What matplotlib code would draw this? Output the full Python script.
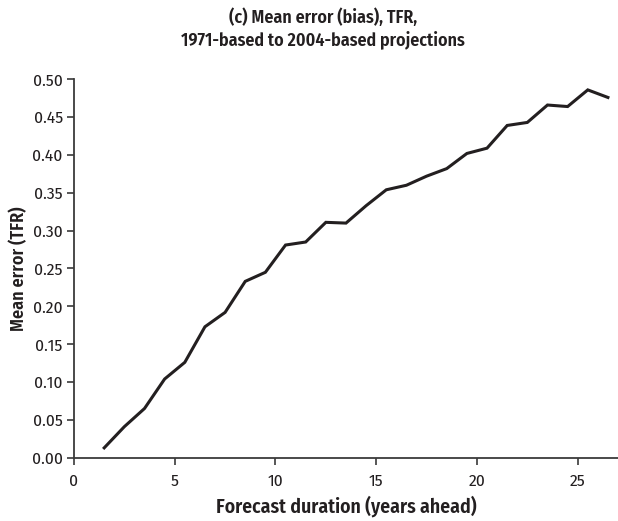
import matplotlib
matplotlib.use("Agg")
import matplotlib.pyplot as plt

# Forecast duration (years ahead) and mean error of TFR
years_ahead = [1.5, 2.5, 3.5, 4.5, 5.5, 6.5, 7.5, 8.5, 9.5, 10.5, 11.5, 12.5, 13.5,
               14.5, 15.5, 16.5, 17.5, 18.5, 19.5, 20.5, 21.5, 22.5, 23.5, 24.5,
               25.5, 26.5]
mean_error = [0.013, 0.041, 0.065, 0.104, 0.126, 0.173, 0.192, 0.233, 0.245, 0.281,
              0.285, 0.311, 0.310, 0.333, 0.354, 0.360, 0.372, 0.382, 0.402, 0.409,
              0.439, 0.443, 0.466, 0.464, 0.486, 0.476]

x_ticks = [0, 5, 10, 15, 20, 25]
y_ticks = [0.00, 0.05, 0.10, 0.15, 0.20, 0.25, 0.30, 0.35, 0.40, 0.45, 0.50]

plt.rcParams["font.family"] = ["Fira Sans Condensed", "DejaVu Sans"]

ink = "#231f20"
fig = plt.figure(figsize=(6.18, 5.21), dpi=100)
ax = fig.add_axes([0.1197, 0.1215, 0.8803, 0.7263])

ax.plot(years_ahead, mean_error, color=ink, linewidth=2.2, solid_joinstyle="miter")

ax.set_xlim(0, 27)
ax.set_ylim(0, 0.5)
ax.set_xticks(x_ticks)
ax.set_yticks(y_ticks)
ax.set_yticklabels([f"{v:.2f}" for v in y_ticks])

for side in ("top", "right"):
    ax.spines[side].set_visible(False)
for side in ("left", "bottom"):
    ax.spines[side].set_color("#3a3a3a")
    ax.spines[side].set_linewidth(1.3)
ax.tick_params(direction="out", length=5, width=1.2, color="#3a3a3a",
               labelsize=12.5, labelcolor=ink)
ax.tick_params(axis="x", pad=6.5)
ax.tick_params(axis="y", pad=3)

ax.set_xlabel("Forecast duration (years ahead)", fontsize=14.2, fontweight="semibold",
              color=ink, labelpad=4)
ax.set_ylabel("Mean error (TFR)", fontsize=13, fontweight="semibold", color=ink, labelpad=3)
fig.text(0.522, 0.944, "(c) Mean error (bias), TFR,\n1971-based to 2004-based projections",
         ha="center", va="center", fontsize=12.9, fontweight="semibold", color=ink,
         linespacing=1.3)

fig.savefig("out.png", dpi=100)
